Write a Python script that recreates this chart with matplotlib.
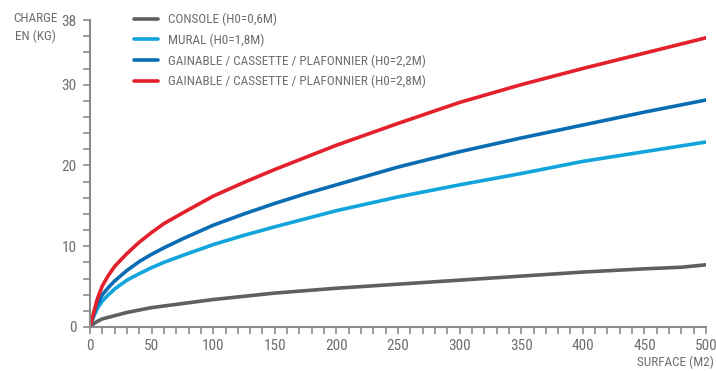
import matplotlib
matplotlib.use("Agg")
import matplotlib.pyplot as plt
from matplotlib import font_manager as fm
from matplotlib.ticker import MultipleLocator, FixedLocator

_avail = {f.name for f in fm.fontManager.ttflist}
_fam = [f for f in ['Roboto Condensed', 'Archivo Narrow', 'Asap Condensed', 'Barlow Condensed'] if f in _avail]
plt.rcParams['font.family'] = _fam[:1] + ['DejaVu Sans']

surface = [0, 3, 6, 10, 15, 20, 30, 40, 50, 60, 75, 100, 125, 150, 175, 200, 250, 300, 350, 400, 450, 500]
charge_red = [0, 1.8, 3.5, 5.1, 6.4, 7.5, 9.1, 10.5, 11.7, 12.8, 14.1, 16.2, 17.9, 19.5, 21.0, 22.5, 25.2, 27.8, 30.0, 32.0, 33.9, 35.8]
charge_dblue = [0, 1.6, 2.8, 4.0, 4.9, 5.7, 7.0, 8.1, 9.0, 9.8, 10.9, 12.6, 14.0, 15.3, 16.5, 17.6, 19.8, 21.7, 23.4, 25.0, 26.6, 28.1]
charge_lblue = [0, 1.3, 2.3, 3.2, 4.0, 4.7, 5.8, 6.6, 7.35, 8.0, 8.85, 10.2, 11.35, 12.4, 13.4, 14.4, 16.1, 17.6, 19.0, 20.5, 21.7, 22.9]

surface_gray = [0, 3, 6, 10, 15, 20, 30, 40, 50, 60, 75, 100, 125, 150, 175, 200, 250, 300, 350, 400, 450, 480, 500]
charge_gray = [0, 0.4, 0.7, 1.0, 1.2, 1.4, 1.8, 2.1, 2.4, 2.6, 2.9, 3.4, 3.8, 4.2, 4.5, 4.8, 5.3, 5.8, 6.3, 6.8, 7.2, 7.4, 7.7]

labels = ["CONSOLE (H0=0,6M)", "MURAL (H0=1,8M)",
          "GAINABLE / CASSETTE / PLAFONNIER (H0=2,2M)",
          "GAINABLE / CASSETTE / PLAFONNIER (H0=2,8M)"]
y_ticklabels = [0, 10, 20, 30, 38]
x_ticklabels = [0, 50, 100, 150, 200, 250, 300, 350, 400, 450, 500]

c_gray = "#5e5f61"
c_lblue = "#12a4dc"
c_dblue = "#0a6db4"
c_red = "#e3202b"
c_text = "#6d6e70"
c_axis = "#8a8b8d"

fig = plt.figure(figsize=(7.16, 3.71), dpi=100)
ax = fig.add_axes([0.1257, 0.1186, 0.986 - 0.1257, 0.946 - 0.1186])

lw = 2.6
l1, = ax.plot(surface_gray, charge_gray, color=c_gray, lw=lw, solid_capstyle='round', solid_joinstyle='round')
l2, = ax.plot(surface, charge_lblue, color=c_lblue, lw=lw, solid_capstyle='round', solid_joinstyle='round')
l3, = ax.plot(surface, charge_dblue, color=c_dblue, lw=lw, solid_capstyle='round', solid_joinstyle='round')
l4, = ax.plot(surface, charge_red, color=c_red, lw=lw, solid_capstyle='round', solid_joinstyle='round')

ax.set_xlim(0, 500)
ax.set_ylim(0, 38)

for s in ['top', 'right']:
    ax.spines[s].set_visible(False)
for s in ['left', 'bottom']:
    ax.spines[s].set_color(c_axis)
    ax.spines[s].set_linewidth(1.5)

ax.xaxis.set_major_locator(FixedLocator(x_ticklabels))
ax.xaxis.set_minor_locator(MultipleLocator(10))
ax.yaxis.set_major_locator(FixedLocator(y_ticklabels))
ax.yaxis.set_minor_locator(MultipleLocator(2))
ax.set_xticklabels([str(v) for v in x_ticklabels])
ax.set_yticklabels([str(v) for v in y_ticklabels])
ax.tick_params(which='both', color=c_axis, width=1.2, labelcolor=c_text, labelsize=11)
ax.tick_params(which='major', length=5)
ax.tick_params(which='minor', length=5)
ax.tick_params(axis='x', pad=4)
ax.tick_params(axis='y', pad=4.5)

fig.text(35 / 716, 1 - 12 / 371, "CHARGE\nEN (KG)", ha='center', va='top', color=c_text,
         fontsize=9.5, linespacing=1.45, multialignment='center')
fig.text(714 / 716, 1 - 366 / 371, "SURFACE (M2)", ha='right', va='baseline', color=c_text, fontsize=9.5)

leg = ax.legend([l1, l2, l3, l4], labels, loc='upper left',
                bbox_to_anchor=(134 / 716, 1 - 13 / 371), bbox_transform=fig.transFigure,
                frameon=False, fontsize=9.5, handlelength=1.85, handletextpad=0.75,
                labelspacing=0.55, borderaxespad=0, borderpad=0)
for t in leg.get_texts():
    t.set_color(c_text)

fig.savefig("out.png", dpi=100)
